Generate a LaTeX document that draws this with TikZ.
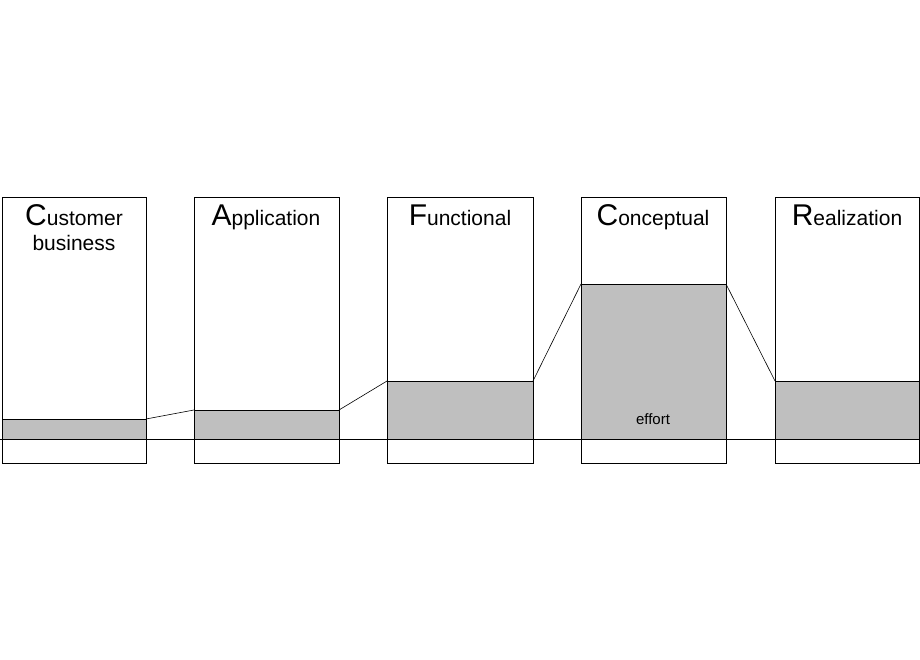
\documentclass[tikz,border=0pt]{standalone}
\usepackage{fontspec}
\setmainfont{Liberation Sans}
\begin{document}
\begin{tikzpicture}[x=1pt,y=-1pt,
  box/.style={draw=black,line width=0.8pt},
  fillg/.style={fill=black!25,draw=black,line width=0.8pt},
  ttl/.style={anchor=north,align=center,font=\fontsize{21}{27}\selectfont},
  big/.style={}]
\useasboundingbox (0,0) rectangle (920,660);
\newcommand{\Bg}[1]{{\fontsize{30}{30}\selectfont #1}}
\foreach \xa/\xb/\g/\n in {2/146/419/a,194/339/410/b,387/533/381/c,581/726/284/d,775/919/381/e}{
  \fill[black!25] (\xa,\g) rectangle (\xb,439);
  \draw[box] (\xa,197) rectangle (\xb,463);
  \draw[box] (\xa,\g) -- (\xb,\g);
  \coordinate (\n L) at (\xa,\g);
  \coordinate (\n R) at (\xb,\g);
}
\draw[line width=0.8pt] (0,439) -- (920,439);
\draw[line width=0.6pt] (aR) -- (bL) (bR) -- (cL) (cR) -- (dL) (dR) -- (eL);
\node[ttl] (t1) at (74,201) {\Bg{C}ustomer\\[-2pt]business};
\node[ttl] (t2) at (266,201) {\Bg{A}pplication};
\node[ttl] (t3) at (460,201) {\Bg{F}unctional};
\node[ttl] (t4) at (653,201) {\Bg{C}onceptual};
\node[ttl] (t5) at (847,201) {\Bg{R}ealization};
\node[font=\fontsize{15}{18}\selectfont] (ef) at (653,419) {effort};
\end{tikzpicture}
\end{document}
